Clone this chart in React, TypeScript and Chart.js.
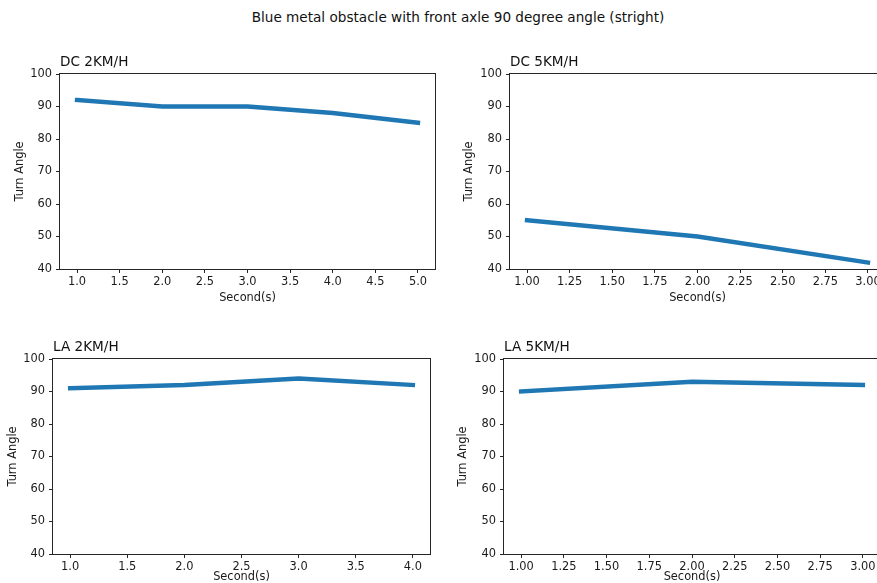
import React, { useEffect, useRef } from "react";
import { Chart, registerables } from "chart.js";

Chart.register(...registerables);

// ---- text ----
const SUPTITLE = "Blue metal obstacle with front axle 90 degree angle (stright)";
const Y_LABEL = "Turn Angle";
const X_LABEL = "Second(s)";
const Y_TICKS = [40, 50, 60, 70, 80, 90, 100];
const Y_MIN = 40;
const Y_MAX = 100;

// ---- DC 2KM/H ----
const dc2Title = "DC 2KM/H";
const dc2Seconds = [1, 2, 3, 4, 5];
const dc2Angle = [92, 90, 90, 88, 85];
const dc2Ticks = [1.0, 1.5, 2.0, 2.5, 3.0, 3.5, 4.0, 4.5, 5.0];

// ---- DC 5KM/H ----
const dc5Title = "DC 5KM/H";
const dc5Seconds = [1, 2, 3];
const dc5Angle = [55, 50, 42];
const dc5Ticks = [1.0, 1.25, 1.5, 1.75, 2.0, 2.25, 2.5, 2.75, 3.0];

// ---- LA 2KM/H ----
const la2Title = "LA 2KM/H";
const la2Seconds = [1, 2, 3, 4];
const la2Angle = [91, 92, 94, 92];
const la2Ticks = [1.0, 1.5, 2.0, 2.5, 3.0, 3.5, 4.0];

// ---- LA 5KM/H ----
const la5Title = "LA 5KM/H";
const la5Seconds = [1, 2, 3];
const la5Angle = [90, 93, 92];
const la5Ticks = [1.0, 1.25, 1.5, 1.75, 2.0, 2.25, 2.5, 2.75, 3.0];

const FONT = "'DejaVu Sans', 'Liberation Sans', sans-serif";
const TEXT = "#1a1a1a";
const SPINE = "#262626";
const LINE = "#1f77b4";

type Spec = {
  title: string;
  seconds: number[];
  angles: number[];
  ticks: number[];
  decimals: number;
  left: number;
  top: number;
  width: number;
  height: number;
  yTitleX: number;
  xTitleY: number;
};

const SPECS: Spec[] = [
  { title: dc2Title, seconds: dc2Seconds, angles: dc2Angle, ticks: dc2Ticks, decimals: 1,
    left: 60, top: 74, width: 375, height: 195, yTitleX: 20, xTitleY: 298 },
  { title: dc5Title, seconds: dc5Seconds, angles: dc5Angle, ticks: dc5Ticks, decimals: 2,
    left: 510, top: 74, width: 375, height: 195, yTitleX: 469, xTitleY: 298 },
  { title: la2Title, seconds: la2Seconds, angles: la2Angle, ticks: la2Ticks, decimals: 1,
    left: 53, top: 359, width: 377, height: 195, yTitleX: 13, xTitleY: 577 },
  { title: la5Title, seconds: la5Seconds, angles: la5Angle, ticks: la5Ticks, decimals: 2,
    left: 504, top: 359, width: 376, height: 195, yTitleX: 463, xTitleY: 577 },
];

const TITLE_H = 22;
const AXIS_FONT = 11.4;
const HALF_LH = (AXIS_FONT * 1.2) / 2;

const boxPlugin = {
  id: "axesBox",
  afterDatasetsDraw(chart: any) {
    const { ctx, chartArea } = chart;
    ctx.save();
    ctx.strokeStyle = SPINE;
    ctx.lineWidth = 1;
    ctx.strokeRect(
      Math.round(chartArea.left) - 0.5,
      Math.round(chartArea.top) - 0.5,
      Math.round(chartArea.right - chartArea.left) + 1,
      Math.round(chartArea.bottom - chartArea.top) + 1
    );
    ctx.restore();
  },
};

function Panel({ spec }: { spec: Spec }) {
  const ref = useRef<HTMLCanvasElement>(null);
  const canvasLeft = spec.yTitleX - 8;
  const yW = spec.left - canvasLeft;
  const xH = spec.xTitleY - (spec.top + spec.height) + 8;
  const RIGHT = 12;
  const cw = yW + spec.width + RIGHT;
  const ch = TITLE_H + spec.height + xH;

  useEffect(() => {
    const s = spec;
    const first = s.seconds[0];
    const last = s.seconds[s.seconds.length - 1];
    const margin = (last - first) * 0.05;
    const chart = new Chart(ref.current as HTMLCanvasElement, {
      type: "line",
      data: {
        datasets: [
          {
            data: s.seconds.map((x, i) => ({ x, y: s.angles[i] })),
            borderColor: LINE,
            backgroundColor: LINE,
            borderWidth: 4.4,
            pointRadius: 0,
            tension: 0,
            borderCapStyle: "square",
            borderJoinStyle: "round",
            fill: false,
          },
        ],
      },
      options: {
        animation: false,
        responsive: false,
        devicePixelRatio: 1,
        layout: { padding: { left: 0, top: 0, right: RIGHT, bottom: 0 } },
        plugins: {
          legend: { display: false },
          tooltip: { enabled: false },
          title: {
            display: true,
            text: s.title,
            position: "top",
            align: "start",
            fullSize: false,
            color: "#111",
            font: { family: FONT, size: 13.6, weight: "normal" },
            padding: { top: 2.4, bottom: TITLE_H - 2.4 - 13.6 * 1.2 },
          },
        },
        scales: {
          x: {
            type: "linear",
            min: first - margin,
            max: last + margin,
            afterBuildTicks: (scale: any) => {
              scale.ticks = s.ticks.map((v) => ({ value: v }));
            },
            afterFit: (scale: any) => {
              scale.height = xH;
            },
            ticks: {
              color: TEXT,
              font: { family: FONT, size: AXIS_FONT },
              padding: 2,
              maxRotation: 0,
              autoSkip: false,
              callback: (v: any) => Number(v).toFixed(s.decimals),
            },
            grid: {
              display: true,
              drawOnChartArea: false,
              drawTicks: true,
              tickLength: 4,
              color: SPINE,
              lineWidth: 1,
            },
            border: { display: false },
            title: {
              display: true,
              text: X_LABEL,
              color: TEXT,
              font: { family: FONT, size: AXIS_FONT },
              padding: { top: 0, bottom: 8 - HALF_LH },
            },
          },
          y: {
            type: "linear",
            min: Y_MIN,
            max: Y_MAX,
            afterBuildTicks: (scale: any) => {
              scale.ticks = Y_TICKS.map((v) => ({ value: v }));
            },
            afterFit: (scale: any) => {
              scale.width = yW;
            },
            ticks: {
              color: TEXT,
              font: { family: FONT, size: AXIS_FONT },
              padding: 4,
              autoSkip: false,
              callback: (v: any) => String(v),
            },
            grid: {
              display: true,
              drawOnChartArea: false,
              drawTicks: true,
              tickLength: 4,
              color: SPINE,
              lineWidth: 1,
            },
            border: { display: false },
            title: {
              display: true,
              text: Y_LABEL,
              color: TEXT,
              font: { family: FONT, size: AXIS_FONT },
              padding: { top: 8 - HALF_LH, bottom: 0 },
            },
          },
        },
      },
      plugins: [boxPlugin],
    } as any);
    return () => chart.destroy();
  }, []);

  return (
    <canvas
      ref={ref}
      width={cw}
      height={ch}
      style={{
        position: "absolute",
        left: canvasLeft,
        top: spec.top - TITLE_H,
        width: cw,
        height: ch,
      }}
    />
  );
}

export default function App() {
  return (
    <div
      style={{
        position: "fixed",
        left: 0,
        top: 0,
        width: 877,
        height: 583,
        overflow: "hidden",
        background: "#fff",
      }}
    >
      <div
        style={{
          position: "absolute",
          left: 0,
          top: 10.5,
          width: 916,
          textAlign: "center",
          fontFamily: FONT,
          fontSize: 13.6,
          lineHeight: 1,
          color: "#111",
          whiteSpace: "nowrap",
        }}
      >
        {SUPTITLE}
      </div>
      {SPECS.map((s) => (
        <Panel key={s.title} spec={s} />
      ))}
    </div>
  );
}
